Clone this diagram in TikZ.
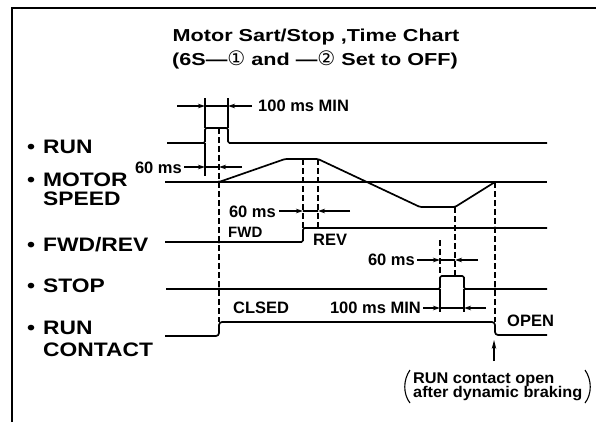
\documentclass[tikz,border=0pt]{standalone}
\usepackage{fontspec}
\setmainfont{Liberation Sans}
\newfontfamily\djv{DejaVu Sans}
\newfontfamily\ttlf[FakeStretch=1.25]{Liberation Sans}
\newfontfamily\lblf[FakeStretch=1.17]{Liberation Sans}
\newfontfamily\annf[FakeStretch=1.05]{Liberation Sans}
\usetikzlibrary{arrows.meta}
\begin{document}
\begin{tikzpicture}[x=1pt,y=-1pt,
  sig/.style={line width=1.7pt, line join=round, rounded corners=1.5pt},
  frameln/.style={line width=1.8pt},
  tick/.style={line width=1.1pt},
  dashln/.style={line width=1.3pt, dash pattern=on 5.5pt off 3.5pt},
  dimarr/.style={line width=1.1pt, -{Stealth[length=7pt,width=4.5pt]}},
  lbl/.style={font=\lblf\bfseries\fontsize{19.5}{22}\selectfont, inner sep=0pt, anchor=base west},
  small/.style={font=\bfseries\fontsize{16.5}{18}\selectfont, inner sep=0pt},
  ttl/.style={font=\ttlf\bfseries\fontsize{17.3}{20}\selectfont, inner sep=0pt, anchor=base},
  ann/.style={font=\annf\bfseries\fontsize{15.5}{17}\selectfont, inner sep=0pt, anchor=base west},
  dotm/.style={circle, fill=black, inner sep=0pt, minimum size=3.2pt},
]
\useasboundingbox (0,0) rectangle (596,424);
% frame
\draw[frameln] (12,422) -- (12,8) -- (596,8);
% title
\node[ttl] (t1) at (316,41) {Motor Sart/Stop ,Time Chart};
\node[ttl] (t2) at (315,65) {(6S—{\djv\mdseries\fontsize{20}{20}\selectfont ①} and —{\djv\mdseries\fontsize{20}{20}\selectfont ②} Set to OFF)};
% labels
\node[lbl] (b1) at (27,153) {•};
\node[lbl] (l1) at (43,153) {RUN};
\node[lbl] (b2) at (27,186.5) {•};
\node[lbl] (l2) at (43,186.5) {MOTOR};
\node[lbl] (l2b) at (43,205) {SPEED};
\node[lbl] (b3) at (27,251) {•};
\node[lbl] (l3) at (43,251) {FWD/REV};
\node[lbl] (b4) at (27,292) {•};
\node[lbl] (l4) at (43,292) {STOP};
\node[lbl] (b5) at (27,334) {•};
\node[lbl] (l5) at (43,334) {RUN};
\node[lbl] (l5b) at (43,356) {CONTACT};

% ---------- signals ----------
% RUN
\draw[sig] (167,143) -- (205,143) -- (205,128) -- (228,128) -- (228,143) -- (547,143);
% MOTOR SPEED baseline and profile
\draw[sig] (165,182) -- (547,182);
\draw[sig] (219,182) -- (285,159) -- (318,159) -- (420,207) -- (455,207) -- (495,182);
% FWD/REV
\draw[sig] (165,242) -- (303,242) -- (303,228) -- (547,228);
% STOP
\draw[sig] (166,289) -- (440,289) -- (440,276) -- (464,276) -- (464,289) -- (547,289);
% RUN CONTACT
\draw[sig, rounded corners=3pt] (165,336) -- (219,336) -- (219,322) -- (495,322) -- (495,335) -- (547,335);

% ---------- dashed guide lines ----------
\draw[dashln] (219,128) -- (219,322);
\draw[dashln] (303,159) -- (303,228);
\draw[dashln] (318,159) -- (318,228);
\draw[dashln] (440,240) -- (440,276);
\draw[dashln] (455,207) -- (455,276);
\draw[dashln] (495,182) -- (495,322);

% intersection dots
\foreach \p in {(219,182),(219,242),(219,289),(495,228),(495,289)}
  \node[dotm] at \p {};

% ---------- dimensions ----------
% 100 ms MIN (top)
\draw[tick] (205,98) -- (205,128);
\draw[tick] (228,98) -- (228,128);
\draw[tick] (205,106) -- (228,106);
\coordinate (d1a) at (177,106); \coordinate (d1b) at (205,106);
\coordinate (d1c) at (252,106); \coordinate (d1d) at (228,106);
\draw[dimarr] (d1a) -- (d1b);
\draw[dimarr] (d1c) -- (d1d);
\node[small, anchor=base west] (n1) at (258,111) {100 ms MIN};
% 60 ms (run -> speed)
\draw[tick] (205,143) -- (205,176);
\draw[tick] (205,167) -- (219,167);
\coordinate (d2a) at (184,167); \coordinate (d2b) at (205,167);
\coordinate (d2c) at (242,167); \coordinate (d2d) at (219,167);
\draw[dimarr] (d2a) -- (d2b);
\draw[dimarr] (d2c) -- (d2d);
\node[small, anchor=base east] (n2) at (182,173) {60 ms};
% 60 ms (speed -> rev)
\draw[tick] (303,211) -- (318,211);
\coordinate (d3a) at (279,211); \coordinate (d3b) at (303,211);
\coordinate (d3c) at (350,211); \coordinate (d3d) at (318,211);
\draw[dimarr] (d3a) -- (d3b);
\draw[dimarr] (d3c) -- (d3d);
\node[small, anchor=base east] (n3) at (276,217) {60 ms};
% 60 ms (speed -> stop)
\draw[tick] (440,260) -- (455,260);
\coordinate (d4a) at (417,260); \coordinate (d4b) at (440,260);
\coordinate (d4c) at (478,260); \coordinate (d4d) at (455,260);
\draw[dimarr] (d4a) -- (d4b);
\draw[dimarr] (d4c) -- (d4d);
\node[small, anchor=base east] (n4) at (415,265) {60 ms};
% 100 ms MIN (stop pulse)
\draw[tick] (440,289) -- (440,312);
\draw[tick] (464,289) -- (464,312);
\draw[tick] (440,308) -- (464,308);
\coordinate (d5a) at (423,308); \coordinate (d5b) at (440,308);
\coordinate (d5c) at (486,308); \coordinate (d5d) at (464,308);
\draw[dimarr] (d5a) -- (d5b);
\draw[dimarr] (d5c) -- (d5d);
\node[small, anchor=base east] (n5) at (421,313) {100 ms MIN};

% state labels
\node[small, anchor=base west, font=\bfseries\fontsize{15}{17}\selectfont] (fwd) at (228,237) {FWD};
\node[small, anchor=base west] (rev) at (313,245) {REV};
\node[small, anchor=base west] (cls) at (233,313) {CLSED};
\node[small, anchor=base west] (opn) at (507,326) {OPEN};

% annotation
\node[ann] (a1) at (413,383) {RUN contact open};
\node[ann] (a2) at (413,397.5) {after dynamic braking};
\coordinate (up1) at (494,361); \coordinate (up2) at (494,340);
\draw[line width=1.2pt, -{Stealth[length=9pt,width=4.5pt]}] (up1) -- (up2);
\draw[line width=1.1pt] (410,370) .. controls (403,380) and (403,394) .. (410,403);
\draw[line width=1.1pt] (585,370) .. controls (592,380) and (592,394) .. (585,403);
\end{tikzpicture}
\end{document}
